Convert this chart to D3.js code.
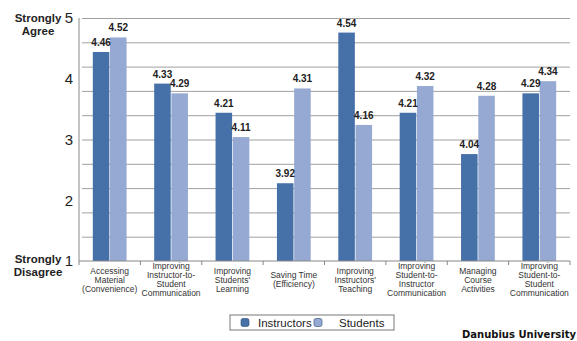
<!DOCTYPE html>
<html>
<head>
<meta charset="utf-8">
<script src="https://cdn.jsdelivr.net/npm/d3@7"></script>
<style>
  body { margin: 0; background: #fff; }
  svg { display: block; font-family: "Liberation Sans", Arial, sans-serif; }
</style>
</head>
<body>
<div id="chart"></div>
<script>
// Data
const categories = [
  ["Accessing", "Material", "(Convenience)"],
  ["Improving", "Instructor-to-", "Student", "Communication"],
  ["Improving", "Students'", "Learning"],
  ["Saving Time", "(Efficiency)"],
  ["Improving", "Instructors'", "Teaching"],
  ["Improving", "Student-to-", "Instructor", "Communication"],
  ["Managing", "Course", "Activities"],
  ["Improving", "Student-to-", "Student", "Communication"]
];
const instructors = [4.46, 4.33, 4.21, 3.92, 4.54, 4.21, 4.04, 4.29];
const students    = [4.52, 4.29, 4.11, 4.31, 4.16, 4.32, 4.28, 4.34];
const seriesNames = ["Instructors", "Students"];
const axisLabels  = [1, 2, 3, 4, 5];

const W = 577, H = 341;
const plotL = 79, plotR = 570, plotT = 18, plotB = 261;

const svg = d3.select("#chart").append("svg")
  .attr("width", W).attr("height", H);

// the bars sit on a 3.6 - 4.6 scale, the 1-5 labels are just spread over the same height
const y = d3.scaleLinear().domain([3.6, 4.6]).range([plotB, plotT]);
const yLab = d3.scaleLinear().domain([1, 5]).range([plotB, plotT]);

const keys = categories.map((c, i) => i);
const x0 = d3.scaleBand().domain(keys).range([plotL, plotR])
  .paddingInner(0.45).paddingOuter(0.225);
const x1 = d3.scaleBand().domain(seriesNames).range([0, x0.bandwidth()]).paddingInner(0.04);
const color = d3.scaleOrdinal().domain(seriesNames).range(["#4570a8", "#95a9d3"]);

// gridlines
svg.append("g")
  .attr("transform", `translate(${plotL},0)`)
  .call(d3.axisLeft(y).ticks(10).tickSize(-(plotR - plotL)).tickFormat(""))
  .call(g => g.select(".domain").remove())
  .call(g => g.selectAll(".tick line").attr("stroke", "#a0a0a0").attr("x1", 3))
  .call(g => g.selectAll(".tick").filter(d => Math.abs(d - 3.6) < 1e-6).remove());

// left axis line
svg.append("line")
  .attr("x1", plotL).attr("x2", plotL).attr("y1", plotT).attr("y2", plotB)
  .attr("stroke", "#888");

// y labels 1-5
svg.append("g").selectAll("text")
  .data(axisLabels).join("text")
  .attr("x", 73).attr("y", d => yLab(d))
  .attr("dy", "0.36em")
  .attr("text-anchor", "end")
  .attr("font-size", 15)
  .attr("fill", "#222")
  .text(d => d);

// end labels
const endLabels = [
  { lines: ["Strongly", "Agree"], y: 18 },
  { lines: ["Strongly", "Disagree"], y: 259 }
];
endLabels.forEach(l => {
  const t = svg.append("text")
    .attr("x", 38).attr("y", l.y)
    .attr("text-anchor", "middle")
    .attr("font-weight", "bold")
    .attr("font-size", 11.5)
    .attr("fill", "#222");
  l.lines.forEach((s, i) => t.append("tspan")
    .attr("x", 38).attr("dy", i === 0 ? "0.35em" : "1.15em").text(s));
});

// bars
const rows = keys.map(i => ({ i, values: [instructors[i], students[i]] }));
const groups = svg.append("g").selectAll("g")
  .data(rows).join("g")
  .attr("transform", d => `translate(${x0(d.i)},0)`);

groups.selectAll("rect")
  .data(d => d.values.map((v, k) => ({ key: seriesNames[k], v })))
  .join("rect")
  .attr("x", d => x1(d.key))
  .attr("y", d => y(d.v))
  .attr("width", x1.bandwidth())
  .attr("height", d => plotB - y(d.v))
  .attr("fill", d => color(d.key));

groups.selectAll("text.val")
  .data(d => d.values.map((v, k) => ({ key: seriesNames[k], v })))
  .join("text")
  .attr("class", "val")
  .attr("x", d => x1(d.key) + x1.bandwidth() / 2)
  .attr("y", d => y(d.v) - 6)
  .attr("text-anchor", "middle")
  .attr("font-weight", "bold")
  .attr("font-size", 10)
  .attr("fill", "#222")
  .text(d => d.v.toFixed(2));

// bottom axis
svg.append("line")
  .attr("x1", plotL).attr("x2", plotR).attr("y1", plotB).attr("y2", plotB)
  .attr("stroke", "#888");
svg.append("g").selectAll("line")
  .data(d3.range(categories.length + 1)).join("line")
  .attr("x1", d => plotL + d * x0.step())
  .attr("x2", d => plotL + d * x0.step())
  .attr("y1", plotB).attr("y2", plotB + 4)
  .attr("stroke", "#888");

// category labels
const catG = svg.append("g").selectAll("text")
  .data(categories).join("text")
  .attr("text-anchor", "middle")
  .attr("font-size", 8.5)
  .attr("fill", "#333")
  .attr("transform", (d, i) => `translate(${x0(i) + x0.bandwidth() / 2},${280 - (d.length - 1) * 4.5})`);
catG.selectAll("tspan")
  .data(d => d).join("tspan")
  .attr("x", 0)
  .attr("y", (d, i) => i * 9)
  .attr("dy", "0.35em")
  .text(d => d);

// legend
const lg = svg.append("g").attr("transform", "translate(230,315)");
lg.append("rect").attr("width", 164).attr("height", 15)
  .attr("fill", "#fff").attr("stroke", "#777");
const items = [{ name: "Instructors", x: 11, tx: 28 }, { name: "Students", x: 84, tx: 109 }];
items.forEach(it => {
  lg.append("rect").attr("x", it.x).attr("y", 3.5).attr("width", 8).attr("height", 8)
    .attr("rx", 2).attr("fill", color(it.name)).attr("stroke", "#2d4a70").attr("stroke-width", 0.6);
  lg.append("text").attr("x", it.tx).attr("y", 7.5).attr("dy", "0.35em")
    .attr("font-size", 11.5).attr("fill", "#222").text(it.name);
});

// source
svg.append("text")
  .attr("x", 576).attr("y", 334).attr("dy", "0.35em")
  .attr("text-anchor", "end")
  .attr("font-family", "'DejaVu Sans', sans-serif")
  .attr("font-weight", "bold")
  .attr("font-size", 10)
  .attr("fill", "#111")
  .text("Danubius University");
</script>
</body>
</html>
